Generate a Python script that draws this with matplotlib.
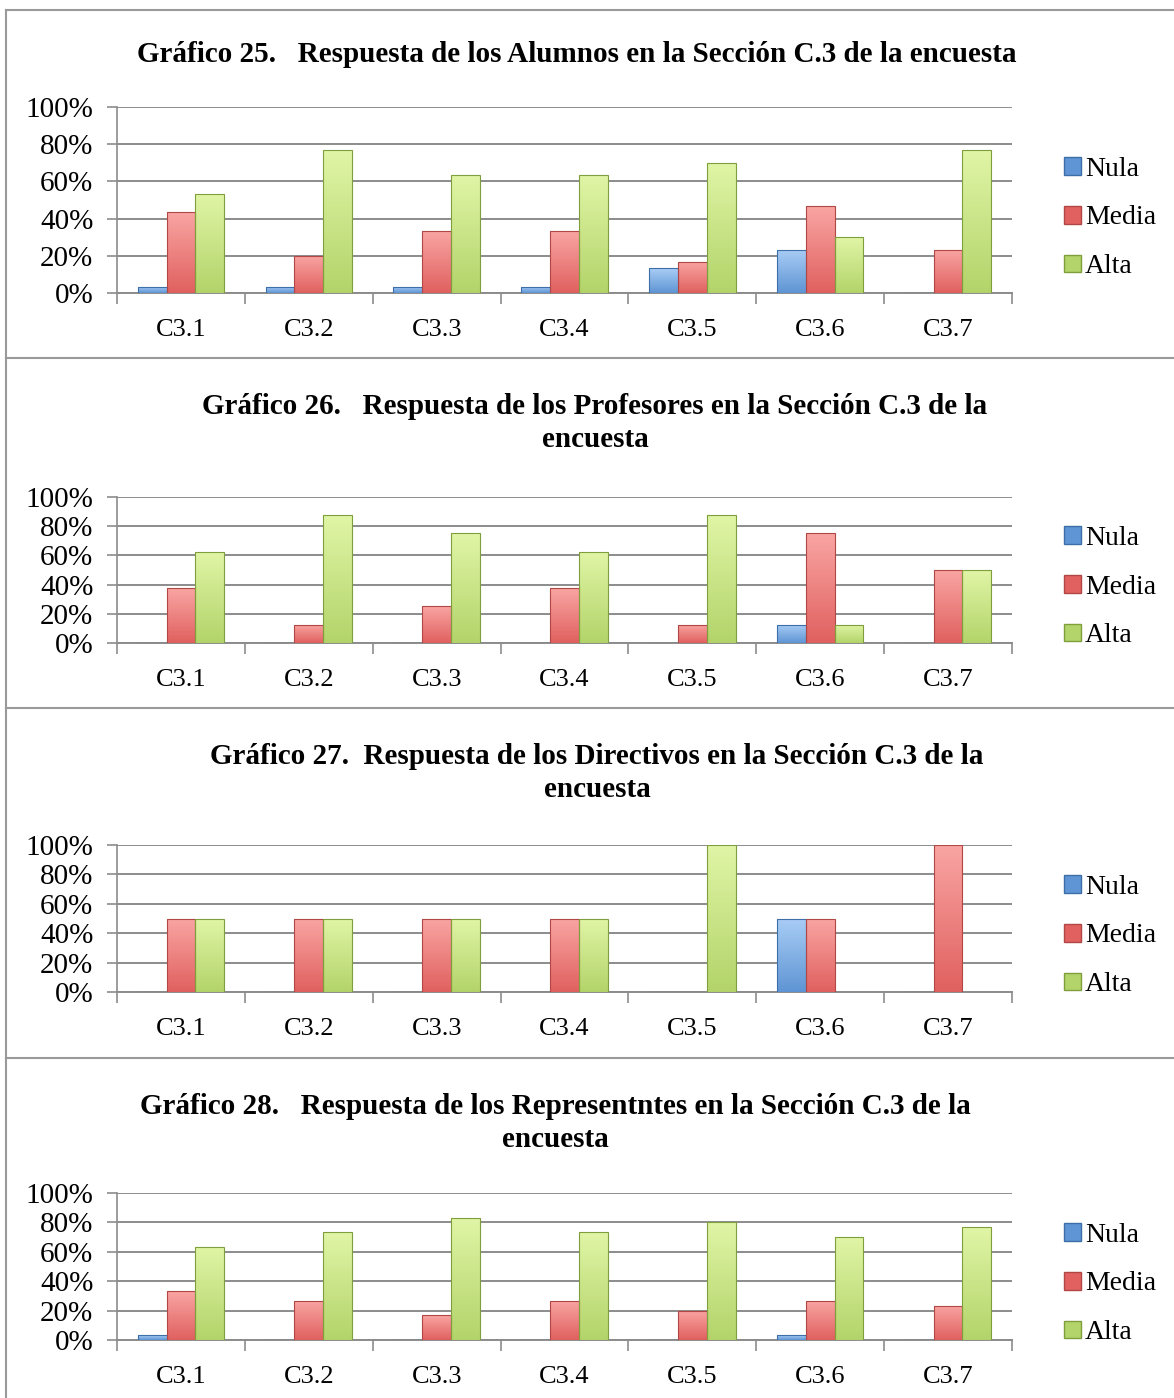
import matplotlib
matplotlib.use('Agg')
import numpy as np
import matplotlib.pyplot as plt
from matplotlib.lines import Line2D
from matplotlib.patches import Patch
from matplotlib.colors import to_rgb


categories = ['C3.1', 'C3.2', 'C3.3', 'C3.4', 'C3.5', 'C3.6', 'C3.7']
series_names = ['Nula', 'Media', 'Alta']

# Alumnos
alumnos_nula = [3.3, 3.3, 3.3, 3.3, 13.3, 23.3, 0]
alumnos_media = [43.3, 20.0, 33.3, 33.3, 16.7, 46.7, 23.3]
alumnos_alta = [53.3, 76.7, 63.3, 63.3, 70.0, 30.0, 76.7]

# Profesores
profesores_nula = [0, 0, 0, 0, 0, 12.5, 0]
profesores_media = [37.5, 12.5, 25.0, 37.5, 12.5, 75.0, 50.0]
profesores_alta = [62.5, 87.5, 75.0, 62.5, 87.5, 12.5, 50.0]

# Directivos
directivos_nula = [0, 0, 0, 0, 0, 50, 0]
directivos_media = [50, 50, 50, 50, 0, 50, 100]
directivos_alta = [50, 50, 50, 50, 100, 0, 0]

# Representantes
repres_nula = [3.3, 0, 0, 0, 0, 3.3, 0]
repres_media = [33.3, 26.7, 16.7, 26.7, 20.0, 26.7, 23.3]
repres_alta = [63.3, 73.3, 83.3, 73.3, 80.0, 70.0, 76.7]

titles = [
    'Gráfico 25.   Respuesta de los Alumnos en la Sección C.3 de la encuesta',
    'Gráfico 26.   Respuesta de los Profesores en la Sección C.3 de la\nencuesta',
    'Gráfico 27.  Respuesta de los Directivos en la Sección C.3 de la\nencuesta',
    'Gráfico 28.   Respuesta de los Representntes en la Sección C.3 de la\nencuesta',
]

panels = [
    (alumnos_nula, alumnos_media, alumnos_alta),
    (profesores_nula, profesores_media, profesores_alta),
    (directivos_nula, directivos_media, directivos_alta),
    (repres_nula, repres_media, repres_alta),
]

light_colors = ['#a9cdf5', '#f9a5a3', '#e0f5a6']
face_colors = ['#5f95d4', '#e0615f', '#b3d46a']
edge_colors = ['#3d6ea8', '#b04745', '#7f9e3c']

plt.rcParams['font.family'] = ['Liberation Serif', 'DejaVu Serif']

W, H = 1174, 1398
fig = plt.figure(figsize=(W / 100, H / 100), dpi=100)

# pixel layout of each panel: (top of plot, bottom of plot, title y, title x, legend centre y)
layout = [
    (107, 293, 55, 577, 218),
    (497, 643, 423, 595, 587),
    (845, 992, 773, 597, 936),
    (1193, 1340, 1123, 555, 1284),
]
x_left, x_right = 117, 1012

grid_col = '#8c8c8c'
x = np.arange(len(categories))
bw = 0.225


def gradient_bars(ax, bars, light, dark):
    # shaded fill inside each bar, a rough take on the bevelled look
    c1 = np.array(to_rgb(light))
    c2 = np.array(to_rgb(dark))
    t = np.linspace(0, 1, 64)[:, None]
    col = c1 * (1 - t) + c2 * t
    img = np.repeat(col[:, None, :], 2, axis=1)
    for b in bars:
        h = b.get_height()
        if h <= 0:
            continue
        x0 = b.get_x()
        im = ax.imshow(img, extent=(x0, x0 + b.get_width(), 0, h), origin='upper',
                       aspect='auto', zorder=3, interpolation='bilinear')
        im.set_clip_path(b)


for (vals, title, (top, bot, ty, tx, ly)) in zip(panels, titles, layout):
    ax = fig.add_axes([x_left / W, 1 - bot / H, (x_right - x_left) / W, (bot - top) / H])
    for i, v in enumerate(vals):
        bars = ax.bar(x + (i - 1) * bw, v, width=bw, color=face_colors[i],
                      edgecolor=edge_colors[i], linewidth=0.8, zorder=4)
        for b in bars:
            b.set_facecolor('none')
        gradient_bars(ax, bars, light_colors[i], face_colors[i])
    ax.set_xlim(-0.5, len(categories) - 0.5)
    ax.set_ylim(0, 100)
    ax.set_yticks(np.arange(0, 101, 20))
    ax.set_yticklabels([f'{t}%' for t in range(0, 101, 20)], fontsize=21)
    ax.set_xticks(x)
    ax.set_xticklabels(categories, fontsize=19)
    ax.set_xticks(np.arange(-0.5, len(categories), 1.0), minor=True)
    ax.tick_params(axis='x', which='major', length=0, pad=19)
    ax.tick_params(axis='x', which='minor', length=8, color=grid_col, width=1.2)
    ax.tick_params(axis='y', length=7, color=grid_col, width=1.2, pad=10)
    ax.grid(axis='y', color=grid_col, linewidth=1.4, zorder=0)
    for s in ['top', 'right']:
        ax.spines[s].set_visible(False)
    ax.spines['left'].set_color(grid_col)
    ax.spines['bottom'].set_color(grid_col)
    ax.spines['left'].set_linewidth(1.2)
    ax.spines['bottom'].set_linewidth(1.4)

    fig.text(tx / W, 1 - ty / H, title, ha='center', va='center',
             fontsize=21, fontweight='bold', linespacing=1.25)

    handles = [Patch(facecolor=face_colors[i], edgecolor=edge_colors[i], label=series_names[i])
               for i in range(3)]
    fig.legend(handles=handles, loc='center left', bbox_to_anchor=(1050 / W, 1 - ly / H),
               frameon=False, fontsize=20, handlelength=0.6, handleheight=0.6,
               handletextpad=0.15, labelspacing=0.85, borderpad=0)

# frame lines around panels
line_col = '#9a9a9a'
fig.add_artist(Line2D([6 / W, 1], [1 - 10 / H, 1 - 10 / H], color=line_col, linewidth=1.5))
fig.add_artist(Line2D([6 / W, 6 / W], [0, 1 - 10 / H], color=line_col, linewidth=1.5))
for sy in [358, 708, 1058]:
    fig.add_artist(Line2D([6 / W, 1], [1 - sy / H, 1 - sy / H], color=line_col, linewidth=1.5))

fig.savefig('out.png', dpi=100)
plt.close(fig)
